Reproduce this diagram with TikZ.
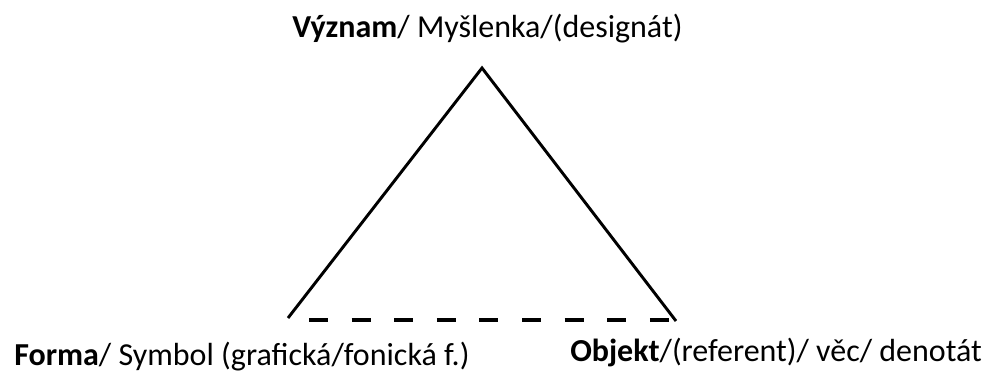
\documentclass[tikz,border=0pt]{standalone}
\usepackage{fontspec}
\setmainfont{Carlito}
\begin{document}
\begin{tikzpicture}[x=0.75pt,y=-0.75pt,
  lbl/.style={anchor=base west,inner sep=0pt,font=\fontsize{24}{28}\selectfont},
  side/.style={line width=2.2pt},
  baseline dash/.style={line width=3pt,dash pattern=on 14.25pt off 17.7pt}]
\useasboundingbox (0,0) rectangle (996,372);
\coordinate (A) at (482,68);
\coordinate (L) at (288,318);
\coordinate (R) at (676,321);
\coordinate (DL) at (309,320);
\coordinate (DR) at (672,320);
\draw[side] (L) -- (A) -- (R);
\draw[baseline dash] (DL) -- (DR);
\node[lbl] (top) at (292,37) {\textbf{Význam}/ Myšlenka/(designát)};
\node[lbl] (left) at (14,365) {\textbf{Forma}/ Symbol (grafická/fonická f.)};
\node[lbl] (right) at (570,361) {\textbf{Objekt}/(referent)/ věc/ denotát};
\end{tikzpicture}
\end{document}
